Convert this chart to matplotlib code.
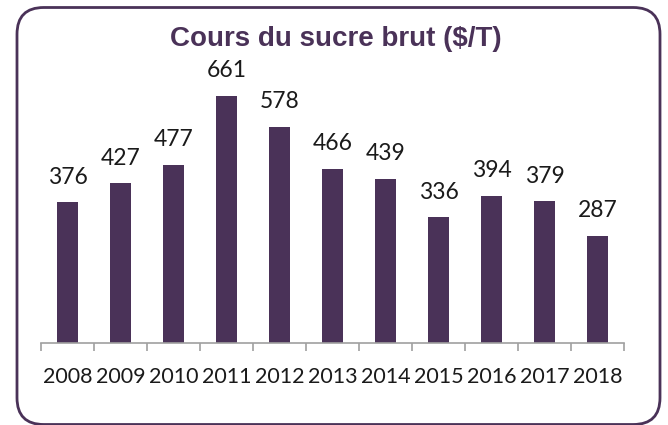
import matplotlib.pyplot as plt
from matplotlib.patches import FancyBboxPatch

# Cours du sucre brut ($/T)
years = ['2008', '2009', '2010', '2011', '2012', '2013', '2014', '2015', '2016', '2017', '2018']
prices = [376, 427, 477, 661, 578, 466, 439, 336, 394, 379, 287]

purple = '#4A3258'
W, H = 668, 425

fig = plt.figure(figsize=(W / 100, H / 100), dpi=100)

# rounded frame around the whole chart
frame = FancyBboxPatch((17 / W, 0.5 / H), 643 / W, 417 / H,
                       boxstyle='round,pad=0,rounding_size=0.04',
                       transform=fig.transFigure, fill=False,
                       edgecolor=purple, linewidth=2, mutation_aspect=W / H)
fig.patches.append(frame)

fig.text(336 / W, 1 - 39 / H, 'Cours du sucre brut ($/T)', ha='center', va='center',
         fontsize=20, fontweight='bold', color=purple, family='Liberation Sans')

ax = fig.add_axes([41 / W, 82 / H, 583 / W, 299 / H])
x = range(len(years))
ax.bar(x, prices, width=0.4, color=purple)
ax.set_xlim(-0.5, len(years) - 0.5)
ax.set_ylim(0, 800)

for xi, v in zip(x, prices):
    ax.annotate(str(v), (xi, v), xytext=(0, 13.5), textcoords='offset points',
                ha='center', va='baseline', fontsize=16.5, color='#1a1a1a', family='Lato')

for s in ['top', 'right', 'left']:
    ax.spines[s].set_visible(False)
ax.spines['bottom'].set_color('#a0a0a0')
ax.spines['bottom'].set_linewidth(1.2)
ax.set_yticks([])
ax.set_xticks(list(x))
ax.set_xticklabels(years, fontsize=15.5, color='#1a1a1a', family='Lato')
ax.tick_params(axis='x', which='major', length=0, pad=17)
ax.set_xticks([i - 0.5 for i in range(len(years) + 1)], minor=True)
ax.tick_params(axis='x', which='minor', length=6, color='#a0a0a0', width=1.2)

fig.savefig('out.png', dpi=100)
